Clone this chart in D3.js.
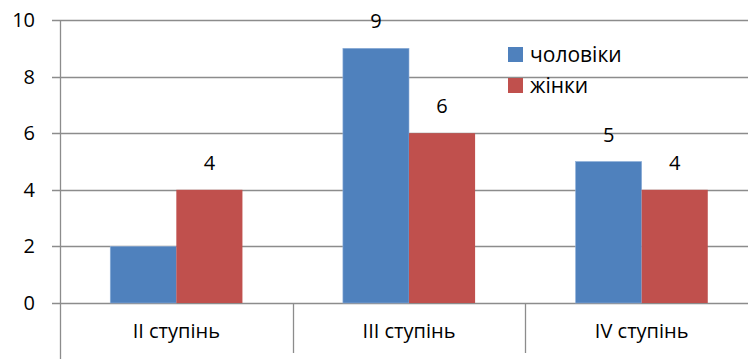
<!DOCTYPE html>
<html>
<head>
<meta charset="utf-8">
<script src="https://cdn.jsdelivr.net/npm/d3@7"></script>
<style>
  html, body { margin: 0; padding: 0; background: #fff; }
  svg { display: block; }
  text { font-family: "Open Sans", "Noto Sans", sans-serif; fill: #000; }
</style>
</head>
<body>
<svg id="chart" width="748" height="362"></svg>
<script>
// Degrees and counts per group
const categories = ["II ступінь", "III ступінь", "IV ступінь"];
const seriesNames = ["чоловіки", "жінки"];
const men = [2, 9, 5];
const women = [4, 6, 4];
const yTicks = [0, 2, 4, 6, 8, 10];
const colors = ["#4F81BD", "#C0504D"];

const svg = d3.select("#chart");
const plotLeft = 60, plotRight = 758, plotTop = 20, plotBottom = 303;

const x = d3.scaleBand().domain(categories).range([plotLeft, plotRight]).padding(0);
const inner = d3.scaleBand().domain(seriesNames)
  .range([0, x.bandwidth()]).paddingOuter(0.76).paddingInner(0);
const y = d3.scaleLinear().domain([0, 10]).range([plotBottom, plotTop]);

const grey = "#8c8c8c";

// horizontal gridlines with left tick marks
svg.append("g").selectAll("line").data(yTicks).join("line")
  .attr("x1", plotLeft - 8).attr("x2", 748)
  .attr("y1", d => Math.round(y(d)) + 0.5).attr("y2", d => Math.round(y(d)) + 0.5)
  .attr("stroke", grey).attr("stroke-width", 1.3);

// y tick labels
svg.append("g").selectAll("text").data(yTicks).join("text")
  .attr("x", 35).attr("y", d => y(d)).attr("dy", "0.35em")
  .attr("text-anchor", "end").style("font-size", "20px")
  .text(d => d);

// bars
const data = categories.map((c, i) => ({ cat: c, vals: [men[i], women[i]] }));
const groups = svg.append("g").selectAll("g").data(data).join("g")
  .attr("transform", d => `translate(${x(d.cat)},0)`);

groups.selectAll("rect").data(d => d.vals.map((v, j) => ({ v, j })))
  .join("rect")
  .attr("x", d => inner(seriesNames[d.j]))
  .attr("width", inner.bandwidth())
  .attr("y", d => y(d.v))
  .attr("height", d => y(0) - y(d.v))
  .attr("fill", d => colors[d.j])
  .attr("stroke", d => d.j === 0 ? "#8fb0d9" : "none")
  .attr("stroke-width", 0.6);

// value labels above bars (the first blue bar carries no label)
groups.selectAll("text.val")
  .data(d => d.vals.map((v, j) => ({ v, j, cat: d.cat }))
    .filter(e => !(e.cat === categories[0] && e.j === 0)))
  .join("text").attr("class", "val")
  .attr("x", d => inner(seriesNames[d.j]) + inner.bandwidth() / 2)
  .attr("y", d => y(d.v) - 27).attr("dy", "0.35em")
  .attr("text-anchor", "middle").style("font-size", "20px")
  .text(d => d.v);

// y axis line
svg.append("line")
  .attr("x1", plotLeft + 0.5).attr("x2", plotLeft + 0.5)
  .attr("y1", plotTop).attr("y2", 359)
  .attr("stroke", grey).attr("stroke-width", 1.3);

// category separators below the axis
svg.append("g").selectAll("line").data(categories.slice(1)).join("line")
  .attr("x1", d => Math.round(x(d)) + 0.5).attr("x2", d => Math.round(x(d)) + 0.5)
  .attr("y1", plotBottom).attr("y2", 353)
  .attr("stroke", grey).attr("stroke-width", 1.3);

// category labels
svg.append("g").selectAll("text").data(categories).join("text")
  .attr("x", d => x(d) + x.bandwidth() / 2).attr("y", 331).attr("dy", "0.35em")
  .attr("text-anchor", "middle").style("font-size", "20px")
  .text(d => d);

// legend
const legend = svg.append("g").attr("transform", "translate(508,47)");
seriesNames.forEach((name, i) => {
  const g = legend.append("g").attr("transform", `translate(0,${i * 31})`);
  g.append("rect").attr("width", 15).attr("height", 15).attr("fill", colors[i]);
  g.append("text").attr("x", 22).attr("y", 8).attr("dy", "0.35em")
    .style("font-size", "21px").text(name);
});
</script>
</body>
</html>
